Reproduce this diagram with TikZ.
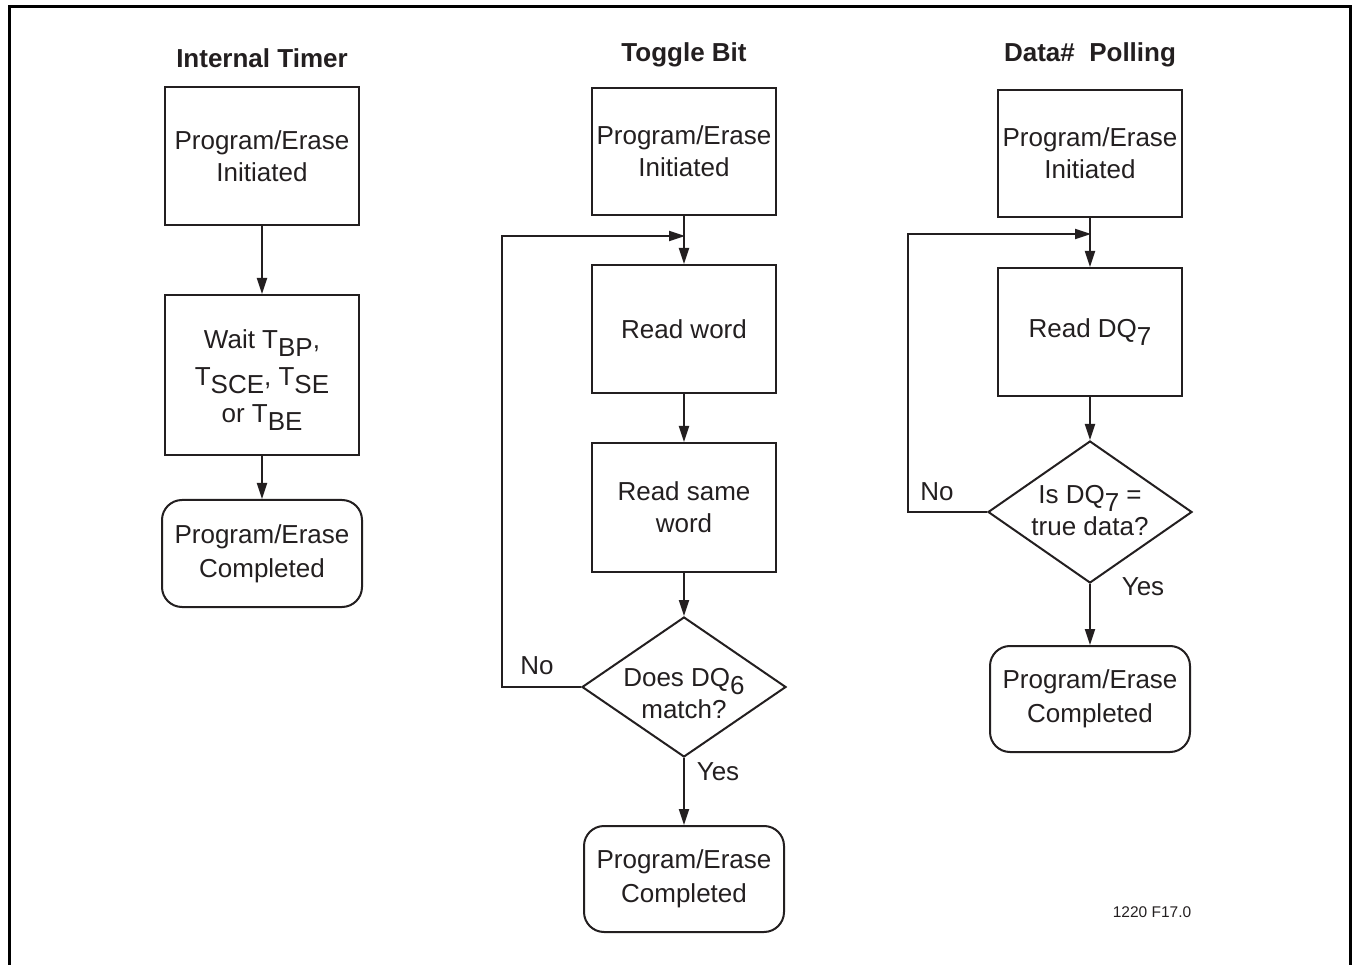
\documentclass[tikz,border=0pt]{standalone}
\usepackage{fontspec}
\setmainfont{Liberation Sans}
\usetikzlibrary{arrows.meta,shapes.geometric}
\newcommand{\dn}[1]{\raisebox{-0.3em}{#1}}
\definecolor{ink}{HTML}{231F20}
\begin{document}
\begin{tikzpicture}[x=1pt,y=-1pt,
  txt/.style={font=\fontsize{26}{32}\selectfont,text=ink,align=center,inner sep=0pt},
  ttl/.style={font=\fontsize{26}{32}\selectfont\bfseries,text=ink,inner sep=0pt},
  box/.style={txt,draw=ink,line width=2pt,inner sep=0pt},
  rbox/.style={box,rounded corners=20pt},
  dia/.style={diamond,draw=ink,line width=2pt,inner sep=0pt},
  arr/.style={draw=ink,line width=1.8pt,-{Triangle[length=16pt,width=10pt]}},
  ln/.style={draw=ink,line width=1.8pt}
]
\useasboundingbox (0,0) rectangle (1353,965);
\draw[line width=3pt] (9,985) -- (9,7) -- (1350,7) -- (1350,985);

% column 1
\node[ttl] (h1) at (262,58) {Internal Timer};
\node[box,minimum width=194pt,minimum height=138pt] (a1) at (262,156) {Program/Erase\\Initiated};
\node[box,minimum width=194pt,minimum height=160pt] (a2) at (262,375) {};
\node[txt] (a2t) at (262,380) {Wait T\dn{BP},\\[5pt]T\dn{SCE}, T\dn{SE}\\[5pt]or T\dn{BE}};
\node[rbox,minimum width=200pt,minimum height=107pt] (a3) at (262,553.5) {Program/Erase\\[2pt]Completed};
\draw[arr] (a1.south) -- (a2.north);
\draw[arr] (a2.south) -- (a3.north);

% column 2
\node[ttl] (h2) at (684,55) {Toggle Bit};
\node[box,minimum width=184pt,minimum height=127pt] (t1) at (684,151.5) {Program/Erase\\Initiated};
\node[box,minimum width=184pt,minimum height=128pt] (t2) at (684,329) {Read word};
\node[box,minimum width=184pt,minimum height=129pt] (t3) at (684,507.5) {Read same\\word};
\node[dia,minimum width=204pt,minimum height=140pt] (d1) at (684,687) {};
\node[txt] (d1t) at (684,694) {Does DQ\dn{6}\\match?};
\node[rbox,minimum width=200pt,minimum height=106pt] (t4) at (684,879) {Program/Erase\\[2pt]Completed};
\coordinate (j1) at (684,236);
\coordinate (l1) at (502,236);
\draw[ln] (t1.south) -- (j1);
\draw[arr] (j1) -- (t2.north);
\draw[arr] (t2.south) -- (t3.north);
\draw[arr] (t3.south) -- (d1.north);
\draw[arr] (d1.south) -- (t4.north);
\draw[arr,shorten >=-1pt] (d1.west) -| (l1) -- (j1);
\node[txt] (no1) at (537,666) {No};
\node[txt] (yes1) at (718,772) {Yes};

% column 3
\node[ttl] (h3) at (1090,55) {Data\#\ \ Polling};
\node[box,minimum width=184pt,minimum height=127pt] (p1) at (1090,153.5) {Program/Erase\\Initiated};
\node[box,minimum width=184pt,minimum height=128pt] (p2) at (1090,332) {Read DQ\dn{7}};
\node[dia,minimum width=204pt,minimum height=142pt] (d2) at (1090,512) {};
\node[txt] (d2t) at (1090,511) {Is DQ\dn{7} =\\true data?};
\node[rbox,minimum width=200pt,minimum height=106pt] (p4) at (1090,699) {Program/Erase\\[2pt]Completed};
\coordinate (j2) at (1090,234);
\coordinate (l2) at (908,234);
\draw[ln] (p1.south) -- (j2);
\draw[arr] (j2) -- (p2.north);
\draw[arr] (p2.south) -- (d2.north);
\draw[arr] (d2.south) -- (p4.north);
\draw[arr,shorten >=-1pt] (d2.west) -| (l2) -- (j2);
\node[txt] (no2) at (937,492) {No};
\node[txt] (yes2) at (1143,587) {Yes};

\node[font=\fontsize{15.5}{18}\selectfont,text=ink,inner sep=0pt] (fig) at (1152,912) {1220 F17.0};
\end{tikzpicture}
\end{document}
